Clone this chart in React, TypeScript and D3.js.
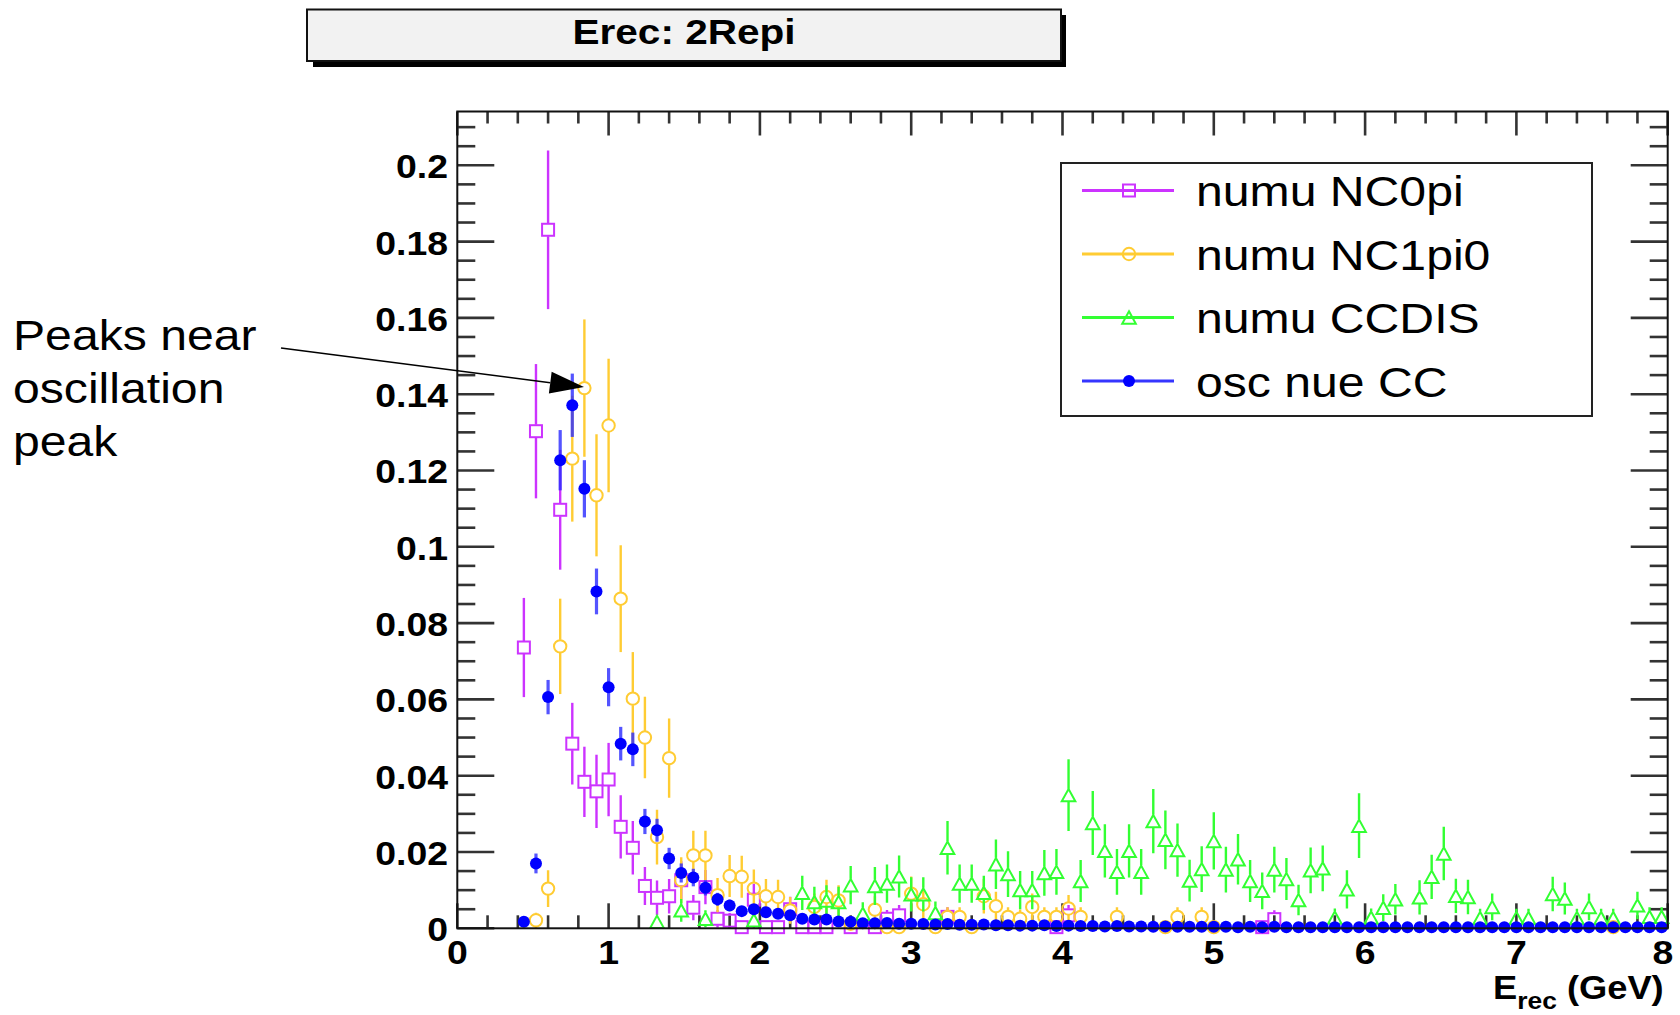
import React from 'react';
import * as d3 from 'd3';

// ---------- data ----------
const BIN_WIDTH = 0.08; // GeV per bin (100 bins over 0-8 GeV)
const X_DOMAIN: [number, number] = [0, 8];
const Y_DOMAIN: [number, number] = [0, 0.2141];
const xTickValues = [0, 1, 2, 3, 4, 5, 6, 7, 8];
const xTickLabels = ['0', '1', '2', '3', '4', '5', '6', '7', '8'];
const yTickValues = [0, 0.02, 0.04, 0.06, 0.08, 0.1, 0.12, 0.14, 0.16, 0.18, 0.2];
const yTickLabels = ['0', '0.02', '0.04', '0.06', '0.08', '0.1', '0.12', '0.14', '0.16', '0.18', '0.2'];

const titleText = 'Erec: 2Repi';
const seriesNames = ['numu NC0pi', 'numu NC1pi0', 'numu CCDIS', 'osc nue CC'];
const seriesColors = ['#cc33ff', '#ffcc33', '#33ff33', '#0000ff'];
const seriesMarkers = ['square', 'circle', 'triangle', 'dot'];
const annotationLines = ['Peaks near', 'oscillation', 'peak'];

// [bin index, content, error]
const nc0pi: [number, number, number][] = [
  [5, 0.0736, 0.013], [6, 0.1303, 0.0176], [7, 0.1831, 0.0208], [8, 0.1097, 0.0157],
  [9, 0.0484, 0.0107], [10, 0.0384, 0.0092], [11, 0.0359, 0.0096], [12, 0.039, 0.0096],
  [13, 0.0266, 0.0083], [14, 0.0211, 0.007], [15, 0.0111, 0.005], [16, 0.008, 0.0045],
  [17, 0.0084, 0.0045], [18, 0.0126, 0.005], [19, 0.0054, 0.0033], [20, 0.0108, 0.0045],
  [21, 0.0025, 0.0023], [22, 0.002, 0.002], [23, 0.0003, 0.0008], [24, 0.0075, 0.0042],
  [25, 0.0003, 0.0008], [26, 0.0003, 0.0008], [27, 0.005, 0.0033], [28, 0.0003, 0.0008],
  [29, 0.0003, 0.0008], [30, 0.0003, 0.0008], [32, 0.0003, 0.0008], [34, 0.0003, 0.0008],
  [35, 0.0025, 0.0023], [36, 0.0034, 0.0027], [40, 0.003, 0.0025], [49, 0.0003, 0.0008],
  [50, 0.0034, 0.0027], [66, 0.0003, 0.0008], [67, 0.0024, 0.0023],
];

const nc1pi0: [number, number, number][] = [
  [6, 0.0021, 0.002], [7, 0.0104, 0.0048], [8, 0.0739, 0.0125], [9, 0.1231, 0.0165],
  [10, 0.1416, 0.018], [11, 0.1135, 0.016], [12, 0.1318, 0.0175], [13, 0.0864, 0.014],
  [14, 0.0602, 0.0122], [15, 0.05, 0.0107], [16, 0.0239, 0.0072], [17, 0.0446, 0.0104],
  [18, 0.0126, 0.006], [19, 0.0191, 0.0065], [20, 0.0191, 0.0065], [21, 0.0087, 0.0045],
  [22, 0.0137, 0.0055], [23, 0.0135, 0.0055], [24, 0.0104, 0.005], [25, 0.0084, 0.0045],
  [26, 0.0082, 0.0045], [27, 0.0047, 0.0035], [29, 0.0056, 0.0035], [30, 0.0082, 0.0045],
  [31, 0.0073, 0.004], [32, 0.0012, 0.0017], [34, 0.0049, 0.0035], [35, 0.0003, 0.0008],
  [36, 0.0003, 0.0008], [37, 0.0091, 0.0045], [38, 0.0063, 0.004], [39, 0.0003, 0.0008],
  [40, 0.003, 0.0025], [41, 0.003, 0.0025], [42, 0.0003, 0.0008], [43, 0.0084, 0.0045],
  [44, 0.0058, 0.0038], [45, 0.003, 0.0025], [46, 0.0025, 0.0024], [47, 0.0056, 0.0035],
  [48, 0.003, 0.0025], [49, 0.003, 0.0025], [50, 0.0052, 0.0035], [51, 0.003, 0.0025],
  [54, 0.003, 0.0025], [58, 0.0003, 0.0008], [59, 0.003, 0.0025], [61, 0.003, 0.0025],
  [62, 0.0003, 0.0008], [95, 0.0003, 0.0008],
];

const ccdis: [number, number, number][] = [
  [16, 0.0017, 0.0017], [18, 0.0047, 0.003], [20, 0.0025, 0.0022], [24, 0.0021, 0.002],
  [28, 0.0093, 0.0045], [29, 0.0069, 0.004], [30, 0.0073, 0.004], [31, 0.0069, 0.004],
  [32, 0.0113, 0.005], [33, 0.0038, 0.003], [34, 0.0111, 0.005], [35, 0.0117, 0.005],
  [36, 0.0136, 0.0055], [37, 0.0089, 0.0045], [38, 0.0089, 0.0045], [39, 0.004, 0.003],
  [40, 0.0211, 0.007], [41, 0.0117, 0.005], [42, 0.0117, 0.005], [43, 0.0093, 0.0045],
  [44, 0.0168, 0.0065], [45, 0.0142, 0.006], [46, 0.01, 0.005], [47, 0.01, 0.005],
  [48, 0.0145, 0.006], [49, 0.0148, 0.006], [50, 0.0349, 0.0094], [51, 0.0124, 0.0055],
  [52, 0.0276, 0.0084], [53, 0.0203, 0.007], [54, 0.0148, 0.006], [55, 0.0203, 0.007],
  [56, 0.0148, 0.006], [57, 0.0281, 0.0084], [58, 0.0232, 0.0077], [59, 0.0205, 0.007],
  [60, 0.0125, 0.0055], [61, 0.0155, 0.006], [62, 0.0229, 0.0075], [63, 0.0154, 0.006],
  [64, 0.0181, 0.0066], [65, 0.0124, 0.0055], [66, 0.0098, 0.0048], [67, 0.0154, 0.006],
  [68, 0.0129, 0.0055], [69, 0.0074, 0.004], [70, 0.0152, 0.006], [71, 0.0157, 0.006],
  [72, 0.0028, 0.0024], [73, 0.0102, 0.005], [74, 0.0269, 0.0085], [75, 0.0028, 0.0024],
  [76, 0.0054, 0.0035], [77, 0.0076, 0.004], [79, 0.0081, 0.0045], [80, 0.0135, 0.0058],
  [81, 0.0196, 0.007], [82, 0.0085, 0.0045], [83, 0.0082, 0.0045], [84, 0.0027, 0.0024],
  [85, 0.0056, 0.0035], [87, 0.0027, 0.0024], [88, 0.0027, 0.0024], [90, 0.009, 0.0045],
  [91, 0.0078, 0.0042], [92, 0.0027, 0.0024], [93, 0.0056, 0.0035], [94, 0.0027, 0.0024],
  [95, 0.0027, 0.0024], [97, 0.006, 0.0036], [98, 0.003, 0.0025], [99, 0.003, 0.0025],
];

const nueCC: [number, number, number][] = [
  [5, 0.0017, 0.001], [6, 0.017, 0.0026], [7, 0.0606, 0.0045], [8, 0.1227, 0.0079],
  [9, 0.1371, 0.0083], [10, 0.1152, 0.0075], [11, 0.0883, 0.006], [12, 0.0632, 0.005],
  [13, 0.0484, 0.0044], [14, 0.0469, 0.0044], [15, 0.028, 0.0033], [16, 0.0257, 0.003],
  [17, 0.0183, 0.0028], [18, 0.0145, 0.0025], [19, 0.0133, 0.0023], [20, 0.0106, 0.002],
  [21, 0.0076, 0.0017], [22, 0.006, 0.0015], [23, 0.0045, 0.0013], [24, 0.005, 0.0013],
  [25, 0.0042, 0.0012], [26, 0.0038, 0.0011], [27, 0.0034, 0.001], [28, 0.0025, 0.0009],
  [29, 0.0023, 0.0009], [30, 0.0023, 0.0009], [31, 0.0018, 0.0008], [32, 0.0017, 0.0008],
  [33, 0.0013, 0.0007], [34, 0.0013, 0.0007], [35, 0.0014, 0.0007], [36, 0.0012, 0.0006],
  [37, 0.0012, 0.0006], [38, 0.0011, 0.0006], [39, 0.001, 0.0006], [40, 0.0011, 0.0006],
  [41, 0.0009, 0.0005], [42, 0.0009, 0.0005], [43, 0.001, 0.0005], [44, 0.0008, 0.0005],
  [45, 0.0008, 0.0005], [46, 0.0007, 0.0005], [47, 0.0007, 0.0005], [48, 0.0008, 0.0005],
  [49, 0.0006, 0.0004], [50, 0.0007, 0.0004], [51, 0.0006, 0.0004], [52, 0.0006, 0.0004],
  [53, 0.0005, 0.0004], [54, 0.0006, 0.0004], [55, 0.0005, 0.0004], [56, 0.0005, 0.0004],
  [57, 0.0004, 0.0004], [58, 0.0005, 0.0004], [59, 0.0004, 0.0004], [60, 0.0004, 0.0004],
  [61, 0.0004, 0.0003], [62, 0.0004, 0.0003], [63, 0.0004, 0.0003], [64, 0.0003, 0.0003],
  [65, 0.0004, 0.0003], [66, 0.0003, 0.0003], [67, 0.0004, 0.0003], [68, 0.0003, 0.0003],
  [69, 0.0003, 0.0003], [70, 0.0003, 0.0003], [71, 0.0003, 0.0003], [72, 0.0003, 0.0003],
  [73, 0.0003, 0.0003], [74, 0.0003, 0.0003], [75, 0.0003, 0.0003], [76, 0.0003, 0.0003],
  [77, 0.0003, 0.0003], [78, 0.0003, 0.0003], [79, 0.0003, 0.0003], [80, 0.0003, 0.0003],
  [81, 0.0003, 0.0003], [82, 0.0003, 0.0003], [83, 0.0003, 0.0003], [84, 0.0003, 0.0003],
  [85, 0.0003, 0.0003], [86, 0.0003, 0.0003], [87, 0.0003, 0.0003], [88, 0.0003, 0.0003],
  [89, 0.0003, 0.0003], [90, 0.0003, 0.0003], [91, 0.0003, 0.0003], [92, 0.0003, 0.0003],
  [93, 0.0003, 0.0003], [94, 0.0003, 0.0003], [95, 0.0003, 0.0003], [96, 0.0003, 0.0003],
  [97, 0.0003, 0.0003], [98, 0.0003, 0.0003], [99, 0.0003, 0.0003],
];

const allSeries = [nc0pi, nc1pi0, ccdis, nueCC];

// ---------- layout ----------
const W = 1680;
const H = 1015;
const FRAME = { left: 457.3, right: 1667.7, top: 111.5, bottom: 928.3 };
const FONT = '"Liberation Sans", Arial, Helvetica, sans-serif';
const SX = 1.1; // horizontal stretch of the reference's text

const xScale = d3.scaleLinear().domain(X_DOMAIN).range([FRAME.left, FRAME.right]);
const yScale = d3.scaleLinear().domain(Y_DOMAIN).range([FRAME.bottom, FRAME.top]);

function Marker({ kind, cx, cy, color }: { kind: string; cx: number; cy: number; color: string }) {
  if (kind === 'square') {
    const s = 6;
    return <rect x={cx - s} y={cy - s} width={2 * s} height={2 * s} fill="none" stroke={color} strokeWidth={2} />;
  }
  if (kind === 'circle') {
    return <circle cx={cx} cy={cy} r={6.2} fill="none" stroke={color} strokeWidth={2} />;
  }
  if (kind === 'triangle') {
    const hw = 6.8;
    const hh = 6.2;
    return (
      <path
        d={`M${cx},${cy - hh}L${cx + hw},${cy + hh}L${cx - hw},${cy + hh}Z`}
        fill="none"
        stroke={color}
        strokeWidth={2}
        strokeLinejoin="miter"
      />
    );
  }
  return <circle cx={cx} cy={cy} r={6} fill={color} />;
}

function Series({ data, kind, color }: { data: [number, number, number][]; kind: string; color: string }) {
  const gap = kind === 'dot' ? 0 : 6.5;
  const barColor = kind === 'dot' ? '#2a2aff' : color;
  const barWidth = kind === 'dot' ? 3.2 : 2.4;
  const barOpacity = kind === 'dot' ? 0.8 : 1;
  return (
    <g>
      <g clipPath="url(#frameClip)" stroke={barColor} strokeWidth={barWidth} opacity={barOpacity}>
        {data.map(([bin, v, e]) => {
          const cx = xScale((bin + 0.5) * BIN_WIDTH);
          const cy = yScale(v);
          const top = yScale(v + e);
          const bot = yScale(v - e);
          const segs = [];
          if (cy - gap > top) segs.push(<line key="u" x1={cx} x2={cx} y1={top} y2={cy - gap} />);
          if (bot > cy + gap) segs.push(<line key="d" x1={cx} x2={cx} y1={cy + gap} y2={bot} />);
          return <g key={bin}>{segs}</g>;
        })}
      </g>
      {data.map(([bin, v]) => (
        <Marker key={bin} kind={kind} cx={xScale((bin + 0.5) * BIN_WIDTH)} cy={yScale(v)} color={color} />
      ))}
    </g>
  );
}

function STxt({ x, y, anchor, size, weight, sx, children }: any) {
  return (
    <text
      transform={`translate(${x},${y}) scale(${sx ?? SX},1)`}
      textAnchor={anchor}
      fontSize={size}
      fontWeight={weight}
      fontFamily={FONT}
      fill="#000"
    >
      {children}
    </text>
  );
}

export default function App() {
  const xMinor = d3.range(0, X_DOMAIN[1] + 1e-9, 0.2);
  const yMinor = d3.range(0, Y_DOMAIN[1], 0.005);
  const tickColor = '#333';

  // arrow geometry
  const a0 = [281, 348];
  const a1 = [584, 387];
  const ang = Math.atan2(a1[1] - a0[1], a1[0] - a0[0]);
  const headLen = 34;
  const headHalf = 11;
  const bx = a1[0] - headLen * Math.cos(ang);
  const by = a1[1] - headLen * Math.sin(ang);
  const head = `M${a1[0]},${a1[1]}L${bx - headHalf * Math.sin(ang)},${by + headHalf * Math.cos(ang)}L${bx + headHalf * Math.sin(ang)},${by - headHalf * Math.cos(ang)}Z`;

  const legendRows = [206, 269.5, 333, 396.5];

  return (
    <svg
      width={W}
      height={H}
      viewBox={`0 0 ${W} ${H}`}
      style={{ position: 'absolute', left: 0, top: 0, display: 'block', background: '#fff' }}
    >
      <defs>
        <clipPath id="frameClip">
          <rect x={FRAME.left} y={FRAME.top} width={FRAME.right - FRAME.left} height={FRAME.bottom - FRAME.top} />
        </clipPath>
      </defs>
      <rect x={0} y={0} width={W} height={H} fill="#fff" />

      {/* title box with shadow */}
      <rect x={313} y={15} width={753} height={52} fill="#000" />
      <rect x={307} y={9.5} width={754} height={51.5} fill="#f2f2f2" stroke="#111" strokeWidth={2} />
      <text
        x={684}
        y={44}
        textAnchor="middle"
        fontSize={35}
        fontWeight="bold"
        fontFamily={FONT}
        textLength={223}
        lengthAdjust="spacingAndGlyphs"
      >
        {titleText}
      </text>

      {/* ticks */}
      <g stroke={tickColor} strokeWidth={2.6}>
        {xMinor.map((v, i) => {
          const x = xScale(v);
          const major = Math.abs(v - Math.round(v)) < 1e-6;
          return (
            <g key={'xt' + i}>
              <line x1={x} x2={x} y1={FRAME.bottom} y2={FRAME.bottom - (major ? 25 : 13)} />
              <line x1={x} x2={x} y1={FRAME.top} y2={FRAME.top + (major ? 24 : 12)} />
            </g>
          );
        })}
        {yMinor.map((v, i) => {
          const y = yScale(v);
          const major = i % 4 === 0;
          return (
            <g key={'yt' + i}>
              <line x1={FRAME.left} x2={FRAME.left + (major ? 37 : 18)} y1={y} y2={y} />
              <line x1={FRAME.right} x2={FRAME.right - (major ? 37 : 18)} y1={y} y2={y} />
            </g>
          );
        })}
      </g>

      {/* data */}
      {allSeries.map((s, i) => (
        <Series key={i} data={s} kind={seriesMarkers[i]} color={seriesColors[i]} />
      ))}

      {/* frame */}
      <rect
        x={FRAME.left}
        y={FRAME.top}
        width={FRAME.right - FRAME.left}
        height={FRAME.bottom - FRAME.top}
        fill="none"
        stroke="#111"
        strokeWidth={2}
      />

      {/* y labels */}
      {yTickValues.map((v, i) => (
        <STxt key={'yl' + i} x={448} y={yScale(v) + 13} anchor="end" size={34} weight="bold">
          {yTickLabels[i]}
        </STxt>
      ))}
      {/* x labels */}
      {xTickValues.map((v, i) => (
        <STxt
          key={'xl' + i}
          x={Math.min(xScale(v), 1663)}
          y={FRAME.bottom + 36}
          anchor="middle"
          size={34}
          weight="bold"
        >
          {xTickLabels[i]}
        </STxt>
      ))}
      {/* x axis title */}
      <text
        transform={`translate(1493,999) scale(1.1,1)`}
        fontFamily={FONT}
        fontWeight="bold"
        fontSize={33}
      >
        <tspan>E</tspan>
        <tspan fontSize={24} dy={10}>rec</tspan>
        <tspan dy={-10}> (GeV)</tspan>
      </text>

      {/* legend */}
      <rect x={1061} y={163} width={531} height={253} fill="#fff" stroke="#222" strokeWidth={2} />
      {seriesNames.map((name, i) => {
        const y = legendRows[i] - 15.5;
        return (
          <g key={'lg' + i}>
            <line
              x1={1082}
              x2={1174}
              y1={y}
              y2={y}
              stroke={i === 3 ? '#3535ff' : seriesColors[i]}
              strokeWidth={3}
            />
            <Marker kind={seriesMarkers[i]} cx={1129} cy={y} color={seriesColors[i]} />
            <STxt x={1196} y={legendRows[i]} anchor="start" size={43} weight="normal" sx={1.12}>
              {name}
            </STxt>
          </g>
        );
      })}

      {/* annotation */}
      {annotationLines.map((t, i) => (
        <STxt key={'an' + i} x={13} y={350 + i * 53} anchor="start" size={43} weight="normal" sx={1.12}>
          {t}
        </STxt>
      ))}
      <line x1={a0[0]} y1={a0[1]} x2={bx} y2={by} stroke="#000" strokeWidth={1.5} />
      <path d={head} fill="#000" />
    </svg>
  );
}
